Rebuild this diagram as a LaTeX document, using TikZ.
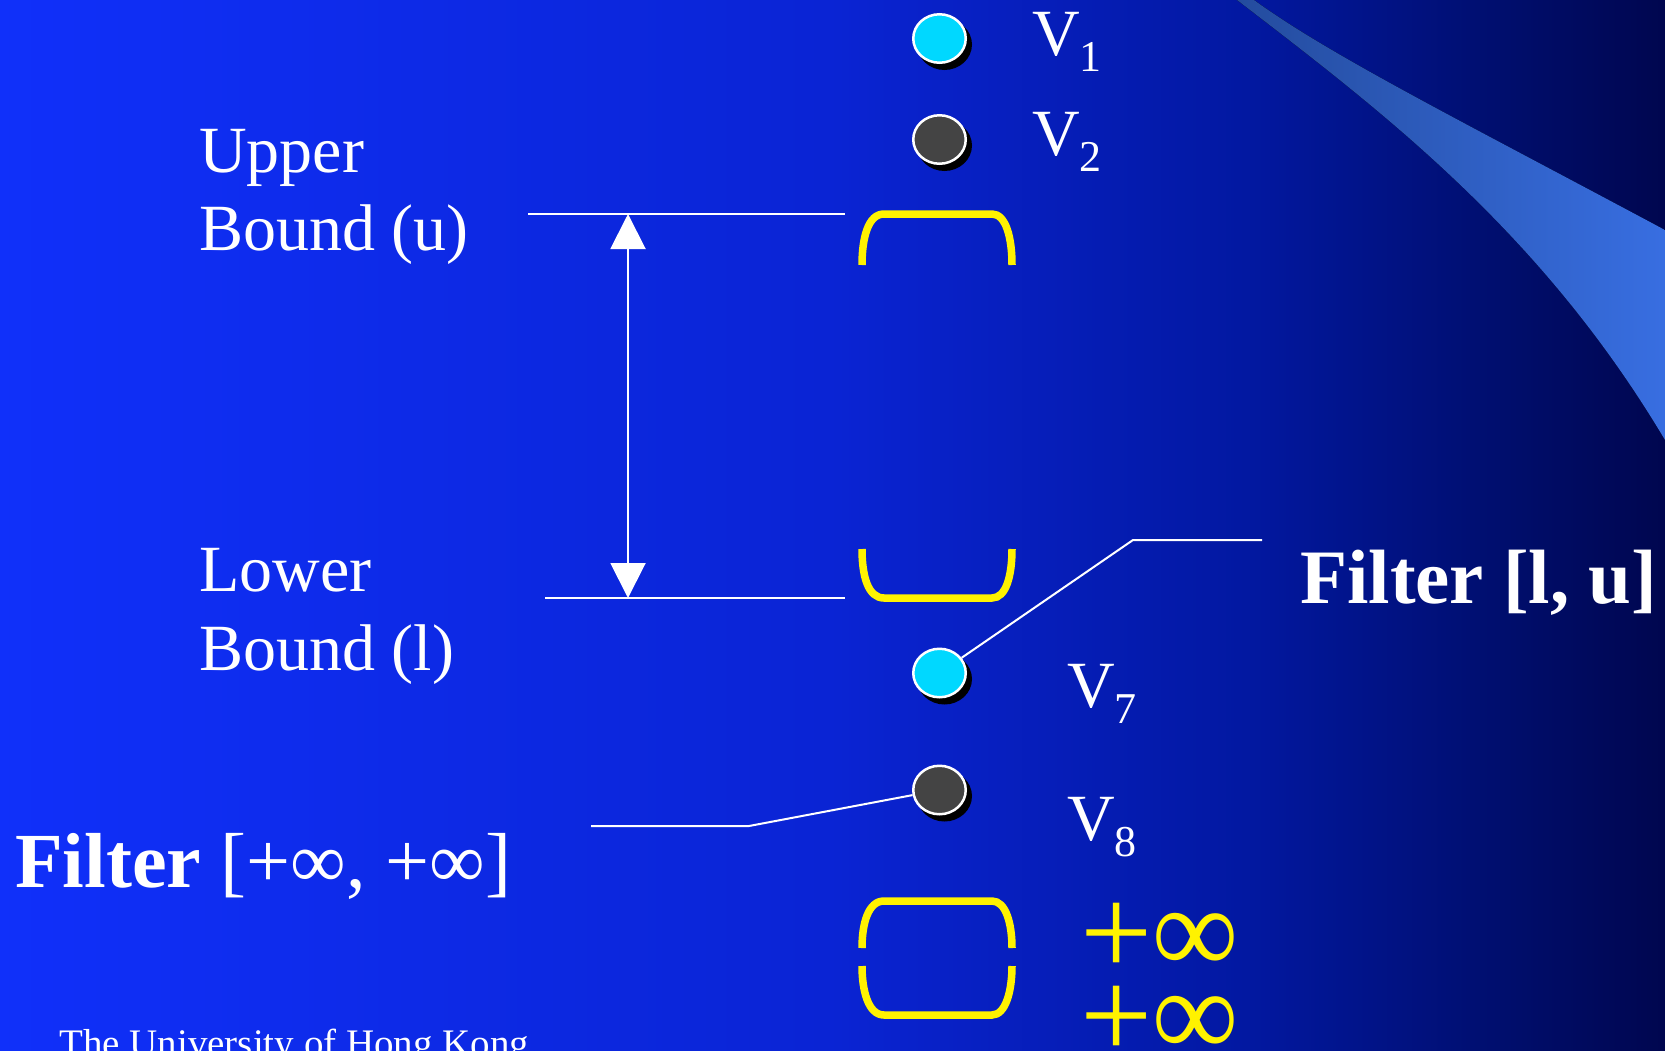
\documentclass[tikz,border=0pt]{standalone}
\usepackage{fontspec}
\setmainfont{Liberation Serif}
\usetikzlibrary{shapes.geometric,arrows.meta,calc}
\pgfdeclarehorizontalshading{bgshade}{100bp}{rgb(0bp)=(0.063,0.188,0.98); rgb(25bp)=(0.063,0.188,0.98); rgb(50bp)=(0.04,0.141,0.83); rgb(62.5bp)=(0.008,0.094,0.63); rgb(70bp)=(0,0.055,0.43); rgb(75bp)=(0,0.024,0.31); rgb(100bp)=(0,0.024,0.31)}
\definecolor{dotcyan}{RGB}{0,216,255}
\definecolor{dotgrey}{RGB}{68,68,68}
\definecolor{wedgeL}{RGB}{36,76,158}
\definecolor{wedgeR}{RGB}{56,110,225}
\tikzset{
  lbl/.style={text=white, inner sep=0pt, font=\fontsize{66}{70}\selectfont},
  dotc/.style={ellipse, draw=white, line width=2.5pt, minimum width=52.5pt, minimum height=48.5pt, inner sep=0pt},
  brk/.style={draw=yellow, line width=7.5pt},
  conn/.style={draw=white, line width=2pt},
  vlab/.style={text=white, inner sep=0pt, anchor=base west, font=\fontsize{66}{70}\selectfont},
  inf/.style={text=yellow, inner sep=0pt, anchor=base west, font=\fontsize{128}{128}\selectfont},
}
\newcommand{\vsub}[1]{\raisebox{-16.5pt}{\fontsize{44}{48}\selectfont #1}}
\newcommand{\plusinf}{+\hspace{1pt}\raisebox{2pt}{\scalebox{0.92}[0.98]{\bfseries ∞}}}
\begin{document}
\begin{tikzpicture}[x=1pt,y=-1pt]
\useasboundingbox (0,0) rectangle (1665,1050);
\clip (0,0) rectangle (1665,1050);
\fill[shading=bgshade] (0,0) rectangle (1665,1050);
% light wedge
\fill[left color=wedgeL, right color=wedgeR, shading=axis, shading angle=90]
  (1237,0) -- (1254,0) .. controls (1330,55) and (1450,115) .. (1665,230)
  -- (1665,440) .. controls (1540,230) and (1380,110) .. (1237,0) -- cycle;

% dots with shadows
\fill[black] (944.5,44.5) ellipse [x radius=27.5pt, y radius=25.5pt];
\node[dotc, fill=dotcyan] (v1) at (939.5,38.5) {};
\fill[black] (944.5,145.5) ellipse [x radius=27.5pt, y radius=25.5pt];
\node[dotc, fill=dotgrey] (v2) at (939.5,139.5) {};
\fill[black] (944.5,679) ellipse [x radius=27.5pt, y radius=25.5pt];
\node[dotc, fill=dotcyan] (v7) at (939.5,673) {};
\fill[black] (944.5,796) ellipse [x radius=27.5pt, y radius=25.5pt];
\node[dotc, fill=dotgrey] (v8) at (939.5,790) {};

% V labels
\node[vlab] (l1) at (1032,55) {V\vsub{1}};
\node[vlab] (l2) at (1032,155) {V\vsub{2}};
\node[vlab] (l7) at (1067,707) {V\vsub{7}};
\node[vlab] (l8) at (1067,840) {V\vsub{8}};

% brackets
\draw[brk] (862,265) .. controls (862,238) and (868,214) .. (884,214) -- (992,214)
  .. controls (1006,214) and (1012,238) .. (1012,265);
\draw[brk] (862,549) .. controls (862,576) and (868,598) .. (884,598) -- (992,598)
  .. controls (1006,598) and (1012,576) .. (1012,549);
\draw[brk] (862,948) .. controls (862,924) and (868,901) .. (884,901) -- (992,901)
  .. controls (1006,901) and (1012,924) .. (1012,948);
\draw[brk] (862,966) .. controls (862,990) and (868,1015) .. (884,1015) -- (992,1015)
  .. controls (1006,1015) and (1012,990) .. (1012,966);

% bound lines and arrow
\coordinate (uL) at (528,214);
\coordinate (uR) at (845,214);
\coordinate (lL) at (545,598);
\coordinate (lR) at (845,598);
\coordinate (ut) at (628,214);
\coordinate (lt) at (628,598);
\draw[conn] (uL) -- (uR);
\draw[conn] (lL) -- (lR);
\draw[conn, {Triangle[width=35pt,length=35pt]}-{Triangle[width=35pt,length=35pt]}, fill=white] (ut) -- (lt);

% left labels
\node[lbl, anchor=base west] (up) at (199,172) {Upper};
\node[lbl, anchor=base west] (ub) at (199,250) {Bound (u)};
\node[lbl, anchor=base west] (lo) at (199,591) {Lower};
\node[lbl, anchor=base west] (lb) at (199,670) {Bound (l)};

% filter labels
\node[text=white, inner sep=0pt, anchor=base west, font=\bfseries\fontsize{77}{80}\selectfont] (flu) at (1300,603) {Filter [l, u]};
\node[text=white, inner sep=0pt, anchor=base west, font=\fontsize{78}{80}\selectfont] (finf) at (15,887) {\textbf{Filter} [+∞, +∞]};

% connectors
\coordinate (b7) at (1133,540);
\coordinate (e7) at (1262,540);
\draw[conn] (v7) -- (b7) -- (e7);
\coordinate (b8) at (749,826);
\coordinate (e8) at (591,826);
\draw[conn] (v8) -- (b8) -- (e8);

% infinity labels
\node[inf] (inf1) at (1080,975) {\plusinf};
\node[inf] (inf2) at (1080,1058) {\plusinf};

% footer
\node[text=white, inner sep=0pt, anchor=base west, font=\fontsize{39}{40}\selectfont] (hku) at (59,1056) {The University of Hong Kong};
\end{tikzpicture}
\end{document}
